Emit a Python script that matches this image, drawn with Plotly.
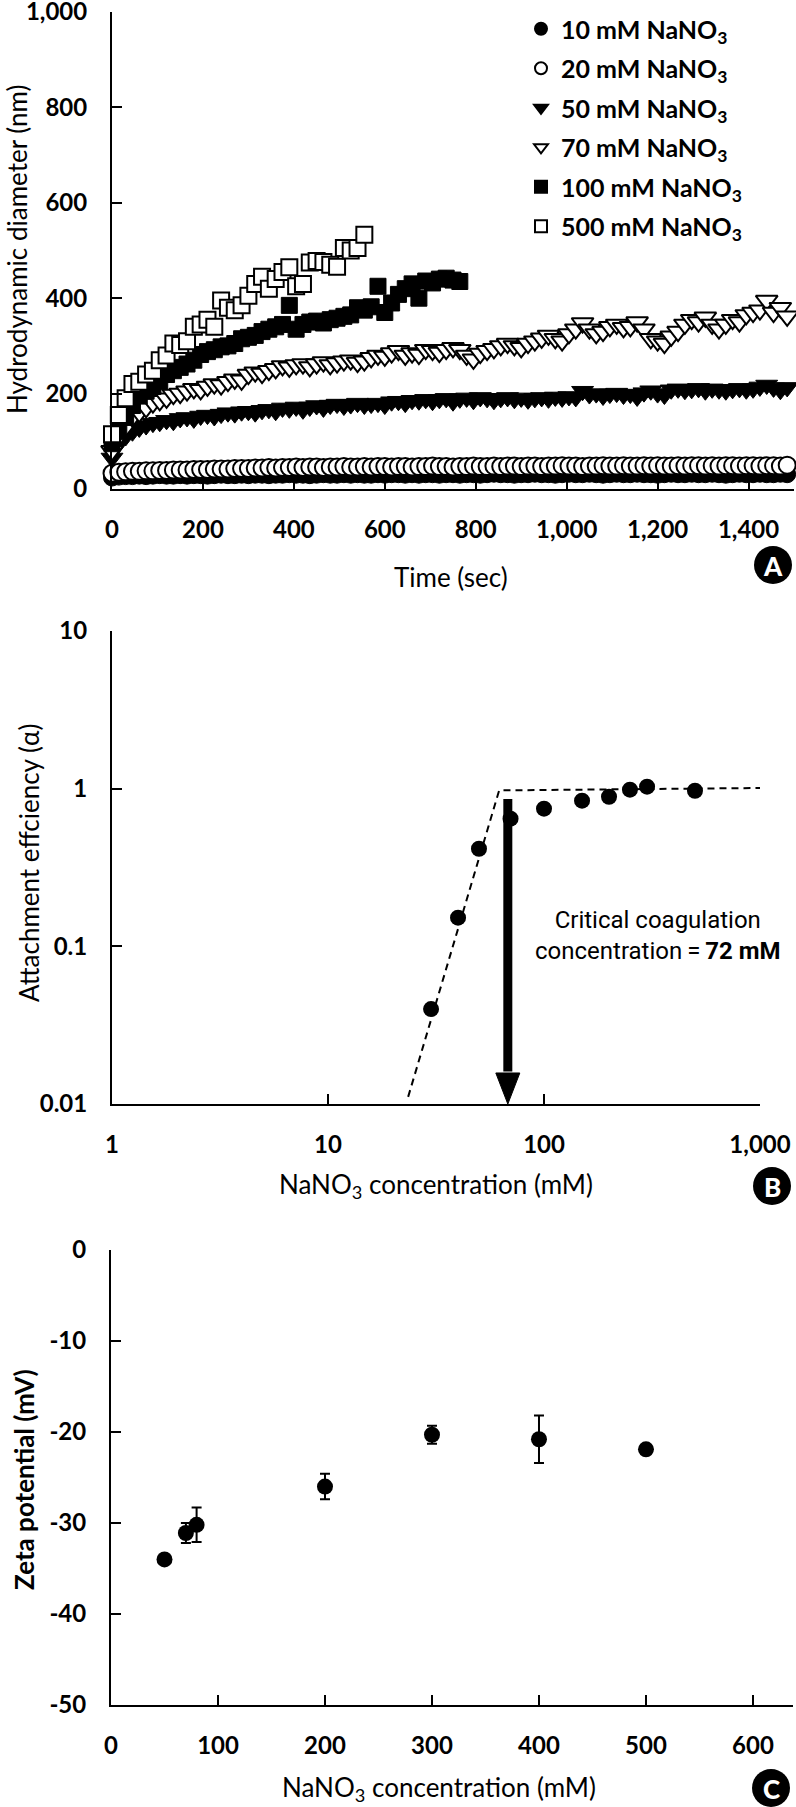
import plotly.graph_objects as go
import math

W, H = 796, 1807

# ---------------- Panel A data ----------------
time_s = [0, 15, 30, 45, 60, 75, 90, 105, 120, 135,
          150, 165, 180, 195, 210, 225, 240, 255, 270, 285,
          300, 315, 330, 345, 360, 375, 390, 405, 420, 435,
          450, 465, 480, 495, 510, 525, 540, 555, 570, 585,
          600, 615, 630, 645, 660, 675, 690, 705, 720, 735,
          750, 765, 780, 795, 810, 825, 840, 855, 870, 885,
          900, 915, 930, 945, 960, 975, 990, 1005, 1020, 1035,
          1050, 1065, 1080, 1095, 1110, 1125, 1140, 1155, 1170, 1185,
          1200, 1215, 1230, 1245, 1260, 1275, 1290, 1305, 1320, 1335,
          1350, 1365, 1380, 1395, 1410, 1425, 1440, 1455, 1470, 1485]

d_10mM = [24, 26, 27, 27, 28, 27, 28, 29, 28, 28,
          29, 28, 29, 29, 28, 29, 30, 29, 29, 30,
          29, 30, 30, 29, 30, 30, 31, 30, 30, 29,
          30, 31, 30, 30, 31, 30, 31, 30, 30, 31,
          30, 31, 31, 30, 31, 30, 31, 31, 30, 31,
          31, 30, 31, 31, 30, 31, 32, 31, 31, 30,
          31, 31, 32, 31, 31, 30, 31, 32, 31, 31,
          32, 31, 30, 31, 32, 31, 31, 32, 31, 31,
          30, 31, 32, 31, 31, 32, 31, 31, 32, 31,
          30, 31, 32, 31, 31, 32, 31, 31, 32, 31]

d_20mM = [33, 35, 36, 37, 37, 38, 38, 39, 39, 40,
          40, 40, 41, 41, 41, 42, 42, 42, 43, 43,
          43, 44, 44, 45, 44, 45, 45, 46, 45, 46,
          46, 45, 46, 46, 47, 46, 46, 47, 46, 47,
          47, 46, 47, 47, 46, 47, 47, 48, 47, 47,
          46, 47, 47, 48, 47, 47, 48, 47, 48, 48,
          47, 48, 48, 47, 48, 48, 49, 48, 48, 47,
          48, 48, 49, 48, 48, 49, 48, 48, 49, 48,
          49, 48, 48, 49, 48, 49, 49, 48, 49, 48,
          49, 49, 48, 49, 49, 48, 49, 49, 48, 50]

d_50mM = [65, 95, 110, 120, 128, 133, 138, 140, 144, 142,
          148, 150, 147, 153, 155, 152, 157, 160, 158, 162,
          163, 160, 165, 167, 163, 170, 168, 172, 166, 172,
          175, 170, 176, 178, 174, 177, 180, 176, 178, 180,
          176, 183, 184, 180, 186, 185, 188, 184, 188, 190,
          183, 189, 191, 186, 192, 190, 186, 190, 192, 188,
          191, 187, 190, 192, 189, 193, 191, 194, 192, 205,
          198, 200, 195, 199, 201, 197, 199, 193, 202, 206,
          200, 197, 208, 210, 207, 209, 211, 206, 210, 208,
          206, 209, 211, 208, 210, 214, 218, 212, 207, 213]

d_70mM = [80, 110, 130, 150, 160, 170, 180, 185, 190, 198,
          200, 205, 210, 208, 215, 220, 218, 225, 230, 228,
          240, 245, 242, 248, 252, 258, 255, 260, 262, 256,
          262, 266, 260, 264, 268, 270, 265, 268, 275, 280,
          278, 285, 290, 280, 285, 282, 292, 290, 286, 292,
          296, 292, 280, 272, 284, 290, 294, 300, 305, 300,
          296, 305, 310, 316, 322, 315, 310, 325, 335, 348,
          335, 325, 330, 340, 345, 338, 340, 350, 335, 315,
          310, 305, 320, 330, 345, 355, 350, 360, 345, 335,
          345, 355, 350, 365, 370, 375, 395, 370, 380, 362]

d_100mM = [95, 120, 150, 175, 195, 205, 215, 225, 240, 248,
           255, 262, 270, 282, 288, 292, 298, 300, 305, 315,
           318, 322, 330, 335, 340, 345, 385, 335, 345, 350,
           352, 348, 355, 358, 362, 365, 380, 375, 382, 425,
           370, 390, 408, 420, 430, 400, 436, 432, 440, 442,
           438, 435]

d_500mM = [115, 155, 190, 220, 225, 240, 248, 270, 280, 305,
           302, 310, 340, 345, 355, 340, 395, 380, 375, 385,
           405, 430, 445, 420, 440, 455, 465, 425, 430, 475,
           478, 476, 470, 466, 505, 500, 505, 533]

series_names = ["10 mM NaNO<sub>3</sub>", "20 mM NaNO<sub>3</sub>", "50 mM NaNO<sub>3</sub>",
                "70 mM NaNO<sub>3</sub>", "100 mM NaNO<sub>3</sub>", "500 mM NaNO<sub>3</sub>"]
series_vals = [d_10mM, d_20mM, d_50mM, d_70mM, d_100mM, d_500mM]

a_xticks = [0, 200, 400, 600, 800, 1000, 1200, 1400]
a_xtext = ["0", "200", "400", "600", "800", "1,000", "1,200", "1,400"]
a_yticks = [0, 200, 400, 600, 800, 1000]
a_ytext = ["0", "200", "400", "600", "800", "1,000"]

# ---------------- Panel B data ----------------
conc_b = [30, 40, 50, 70, 100, 150, 200, 250, 300, 500]
alpha_b = [0.040, 0.152, 0.416, 0.645, 0.747, 0.839, 0.889, 0.985, 1.03, 0.97]
fit_x = [23.5, 62, 1000]
fit_y = [0.0111, 0.975, 1.01]
arrow_x = 68
arrow_top = 0.86
arrow_bottom = 0.01
b_xticks = [1, 10, 100, 1000]
b_xtext = ["1", "10", "100", "1,000"]
b_yticks = [0.01, 0.1, 1, 10]
b_ytext = ["0.01", "0.1", "1", "10"]

# ---------------- Panel C data ----------------
conc_c = [50, 70, 80, 200, 300, 400, 500]
zeta_c = [-34.0, -31.1, -30.2, -26.0, -20.3, -20.8, -21.9]
zeta_err = [0.3, 1.1, 1.9, 1.4, 1.0, 2.6, 0.3]
c_xticks = [0, 100, 200, 300, 400, 500, 600]
c_xtext = ["0", "100", "200", "300", "400", "500", "600"]
c_yticks = [0, -10, -20, -30, -40, -50]
c_ytext = ["0", "-10", "-20", "-30", "-40", "-50"]

FONT = "Lato"


def px_x(p):
    return p / W


def px_y(p):
    return 1 - p / H


fig = go.Figure()

styles = [
    dict(symbol="circle", color="black", line=dict(color="black", width=1)),
    dict(symbol="circle", color="white", line=dict(color="black", width=2)),
    dict(symbol="triangle-down", color="black", line=dict(color="black", width=1)),
    dict(symbol="triangle-down", color="white", line=dict(color="black", width=2)),
    dict(symbol="square", color="black", line=dict(color="black", width=1)),
    dict(symbol="square", color="white", line=dict(color="black", width=2)),
]
sizes = [17, 17, 19, 19, 16, 16]

for name, vals, st, sz in zip(series_names, series_vals, styles, sizes):
    fig.add_trace(go.Scatter(
        x=time_s[:len(vals)], y=vals, mode="markers", name=name,
        legendgroup=name, cliponaxis=False,
        marker=dict(size=sz, **st), xaxis="x", yaxis="y"))

# Panel B
fig.add_trace(go.Scatter(x=fit_x, y=fit_y, mode="lines", showlegend=False,
                         line=dict(color="black", width=2, dash="7px,5px"),
                         xaxis="x2", yaxis="y2"))
fig.add_trace(go.Scatter(x=conc_b, y=alpha_b, mode="markers", showlegend=False,
                         marker=dict(size=16, color="black"), cliponaxis=False,
                         xaxis="x2", yaxis="y2"))
# arrow: shaft + head (head size in pixels converted through the axis scale)
dec_px_x = 216.0
dec_px_y = 157.5
head_half = 12 / dec_px_x
head_len = 31 / dec_px_y
head_base = 10 ** (math.log10(arrow_bottom) + head_len)
fig.add_trace(go.Scatter(x=[arrow_x, arrow_x], y=[arrow_top, head_base * 1.02], mode="lines",
                         showlegend=False, line=dict(color="black", width=9),
                         xaxis="x2", yaxis="y2"))
fig.add_trace(go.Scatter(
    x=[arrow_x * 10 ** (-head_half), arrow_x * 10 ** head_half, arrow_x, arrow_x * 10 ** (-head_half)],
    y=[head_base, head_base, arrow_bottom, head_base],
    mode="lines", fill="toself", fillcolor="black", line=dict(color="black", width=1),
    showlegend=False, cliponaxis=False, xaxis="x2", yaxis="y2"))

# Panel C
fig.add_trace(go.Scatter(x=conc_c, y=zeta_c, mode="markers", showlegend=False,
                         marker=dict(size=16, color="black"),
                         error_y=dict(type="data", array=zeta_err, visible=True,
                                      color="black", thickness=2, width=5),
                         xaxis="x3", yaxis="y3"))

tickfont = dict(family=FONT, size=24, color="black", weight=700)
common = dict(showline=True, linecolor="black", linewidth=2, ticks="inside",
              ticklen=10, tickwidth=2, tickcolor="black", showgrid=False,
              zeroline=False, tickfont=tickfont, mirror=False, automargin=False,
              ticklabeloverflow="allow")

fig.update_layout(
    width=W, height=H, margin=dict(l=0, r=0, t=0, b=0, pad=0, autoexpand=False),
    paper_bgcolor="white", plot_bgcolor="white",
    font=dict(family=FONT, color="black"),
    xaxis=dict(domain=[px_x(112), px_x(794)], range=[0, 1500], anchor="y",
               tickvals=a_xticks, ticktext=a_xtext, ticklabelstandoff=18, **common),
    yaxis=dict(domain=[px_y(489), px_y(12)], range=[0, 1000], anchor="x",
               tickvals=a_yticks, ticktext=a_ytext, ticklabelstandoff=18, **common),
    xaxis2=dict(domain=[px_x(112), px_x(760)], type="log", range=[0, 3], anchor="y2",
                tickvals=b_xticks, ticktext=b_xtext, ticklabelstandoff=18, **common),
    yaxis2=dict(domain=[px_y(1104), px_y(631)], type="log", range=[-2, 1], anchor="x2",
                tickvals=b_yticks, ticktext=b_ytext, ticklabelstandoff=18, **common),
    xaxis3=dict(domain=[px_x(111), px_x(793)], range=[0, 637.4], anchor="y3",
                tickvals=c_xticks, ticktext=c_xtext, ticklabelstandoff=18, **common),
    yaxis3=dict(domain=[px_y(1705), px_y(1250)], range=[-50, 0], anchor="x3",
                tickvals=c_yticks, ticktext=c_ytext, ticklabelstandoff=18, **common),
    legend=dict(x=px_x(521), y=px_y(6), xanchor="left", yanchor="top",
                bgcolor="rgba(0,0,0,0)", itemsizing="constant", tracegroupgap=4,
                font=dict(family=FONT, size=25, color="black", weight=700)),
)

annos = [
    dict(text="Hydrodynamic diameter (nm)", x=px_x(17), y=px_y(250), textangle=-90, size=26, weight=400),
    dict(text="Time (sec)", x=px_x(451), y=px_y(577), textangle=0, size=26, weight=400),
    dict(text="Attachment effciency (α)", x=px_x(29), y=px_y(863), textangle=-90, size=26, weight=400),
    dict(text="NaNO<sub>3</sub> concentration (mM)", x=px_x(436), y=px_y(1185), textangle=0, size=26, weight=400),
    dict(text="Zeta potential (mV)", x=px_x(24), y=px_y(1480), textangle=-90, size=26, weight=700),
    dict(text="NaNO<sub>3</sub> concentration (mM)", x=px_x(439), y=px_y(1788), textangle=0, size=26, weight=400),
]
for a in annos:
    fig.add_annotation(text=a["text"], x=a["x"], y=a["y"], xref="paper", yref="paper",
                       xanchor="center", yanchor="middle", showarrow=False, textangle=a["textangle"],
                       font=dict(family=FONT, size=a["size"], color="black", weight=a["weight"]))

fig.add_annotation(text="Critical coagulation<br>concentration\u2009=\u2009<b>72 mM</b>",
                   x=px_x(658), y=px_y(935), xref="paper", yref="paper",
                   xanchor="center", yanchor="middle", showarrow=False, align="center",
                   font=dict(family="Roboto", size=24, color="black"))

# panel letters
for letter, cx, cy in [("A", 773, 565), ("B", 772, 1186), ("C", 771, 1788)]:
    r = 19
    fig.add_shape(type="circle", xref="paper", yref="paper",
                  x0=px_x(cx - r), x1=px_x(cx + r), y0=px_y(cy + r), y1=px_y(cy - r),
                  fillcolor="black", line=dict(color="black", width=0))
    fig.add_annotation(text=letter, x=px_x(cx), y=px_y(cy + 1), xref="paper", yref="paper",
                       xanchor="center", yanchor="middle", showarrow=False,
                       font=dict(family=FONT, size=26, color="white", weight=900))

fig.write_html("out.html", config={"displayModeBar": False},
               post_script="document.body.style.margin='0';")
